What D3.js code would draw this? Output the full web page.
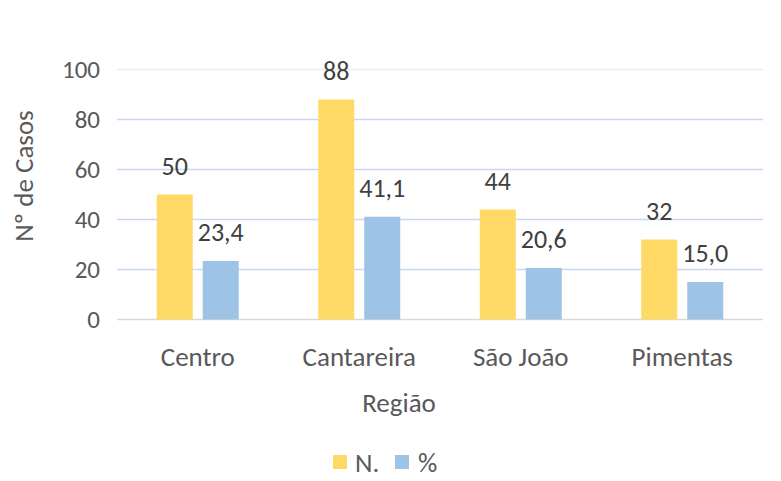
<!DOCTYPE html>
<html><head><meta charset="utf-8">
<script src="https://cdn.jsdelivr.net/npm/d3@7"></script>
<style>body{margin:0;background:#fff}svg{display:block}text{font-family:Carlito,Calibri,Lato,sans-serif}</style>
</head><body>
<script>
const categories = ["Centro","Cantareira","São João","Pimentas"];
const seriesNames = ["N.","%"];
const valuesN = [50,88,44,32];
const valuesPct = [23.4,41.1,20.6,15.0];
const labelsN = ["50","88","44","32"];
const labelsPct = ["23,4","41,1","20,6","15,0"];
const yTicks = [0,20,40,60,80,100];
const colors = ["#FFD966","#9DC3E6"];

(function(){
const W=781,H=481,FS="27px",FN="25px",FL="26px";
const svg=d3.select("body").append("svg").attr("width",W).attr("height",H);
const pLeft=117,pRight=763,pTop=69.5,pBottom=319.5;
const x0=d3.scaleBand().domain(categories).range([pLeft,pRight]).padding(0);
const x1=d3.scaleBand().domain(seriesNames).range([0,x0.bandwidth()]).paddingInner(0.217).paddingOuter(0.864);
const y=d3.scaleLinear().domain([0,100]).range([pBottom,pTop]);

// grid
svg.append("g").selectAll("line").data(yTicks.filter(d=>d>0)).join("line")
 .attr("x1",pLeft).attr("x2",pRight).attr("y1",d=>y(d)).attr("y2",d=>y(d))
 .attr("stroke",d=>d===100?"#e6ecf7":"#c9d7ef").attr("stroke-width",1.3);
svg.append("line").attr("x1",pLeft).attr("x2",pRight).attr("y1",y(0)).attr("y2",y(0))
 .attr("stroke","#d9d9d9").attr("stroke-width",1.5);

// y axis
const ya=svg.append("g").attr("transform",`translate(${pLeft-17},0)`)
 .call(d3.axisLeft(y).tickValues(yTicks).tickSize(0).tickPadding(0).tickFormat(d3.format("d")));
ya.select(".domain").remove();
ya.selectAll("text").attr("fill","#595959").style("font-size",FN).style("font-family","Carlito,Calibri,Lato,sans-serif");

const data=categories.map((c,i)=>({c,vals:[{s:"N.",v:valuesN[i],l:labelsN[i]},{s:"%",v:valuesPct[i],l:labelsPct[i]}]}));
const g=svg.append("g").selectAll("g").data(data).join("g").attr("transform",d=>`translate(${x0(d.c)},0)`);
g.selectAll("rect").data(d=>d.vals).join("rect")
 .attr("x",d=>x1(d.s)).attr("width",x1.bandwidth())
 .attr("y",d=>y(d.v)).attr("height",d=>y(0)-y(d.v))
 .attr("fill",(d,i)=>colors[i]);
g.selectAll("text").data(d=>d.vals).join("text")
 .attr("x",d=>x1(d.s)+x1.bandwidth()/2).attr("y",d=>y(d.v)-20)
 .attr("text-anchor","middle").attr("fill","#404040").style("font-size",FL).text(d=>d.l);

// x labels
svg.append("g").selectAll("text").data(categories).join("text")
 .attr("x",d=>x0(d)+x0.bandwidth()/2).attr("y",366)
 .attr("text-anchor","middle").attr("fill","#595959").style("font-size",FS).text(d=>d);

// titles
svg.append("text").attr("x",399).attr("y",412).attr("text-anchor","middle")
 .attr("fill","#595959").style("font-size",FS).text("Região");
svg.append("text").attr("transform","translate(33,176) rotate(-90)").attr("text-anchor","middle")
 .attr("fill","#595959").style("font-size",FS).text("Nº de Casos");

// legend
const leg=[{n:"N.",x:333,tx:355},{n:"%",x:395,tx:418}];
leg.forEach((d,i)=>{
 svg.append("rect").attr("x",d.x).attr("y",455).attr("width",14).attr("height",14).attr("fill",colors[i]);
 svg.append("text").attr("x",d.tx).attr("y",472).attr("fill","#595959").style("font-size",FS).text(d.n);
});
})();
</script>
</body></html>
